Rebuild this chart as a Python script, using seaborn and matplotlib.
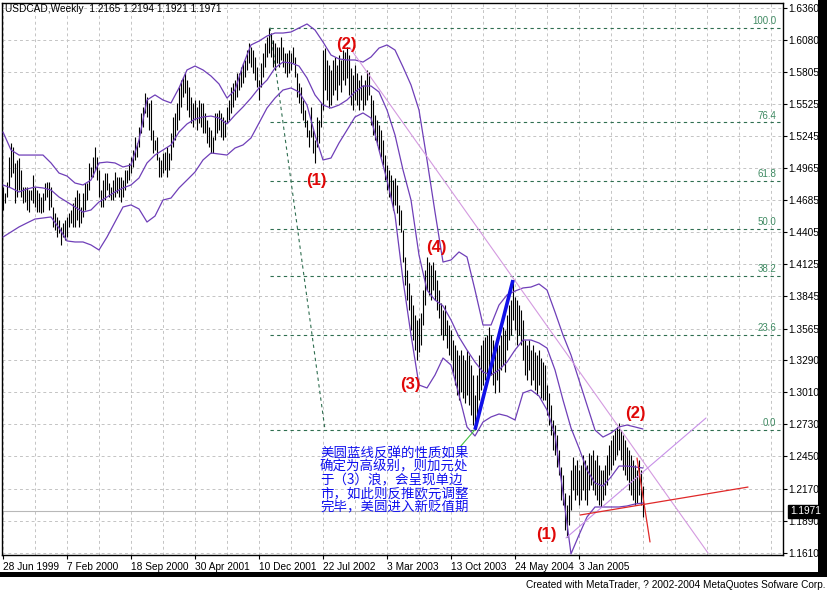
import numpy as np
import pandas as pd
import matplotlib
matplotlib.use("Agg")
import matplotlib.pyplot as plt
from matplotlib.patches import Rectangle
import seaborn as sns

# ---------------- data ----------------
header = "USDCAD,Weekly  1.2165 1.2194 1.1921 1.1971"
footer = "Created with MetaTrader, ? 2002-2004 MetaQuotes Sofware Corp."
date_labels = ["28 Jun 1999", "7 Feb 2000", "18 Sep 2000", "30 Apr 2001", "10 Dec 2001",
               "22 Jul 2002", "3 Mar 2003", "13 Oct 2003", "24 May 2004", "3 Jan 2005"]
date_label_bars = [0, 32, 64, 96, 128, 160, 192, 224, 256, 288]
price_ticks = [1.6360, 1.6080, 1.5805, 1.5525, 1.5245, 1.4965, 1.4685, 1.4405, 1.4125,
               1.3845, 1.3565, 1.3290, 1.3010, 1.2730, 1.2450, 1.2170, 1.1890, 1.1610]

highs = [1.4799, 1.4747, 1.4843, 1.5061, 1.5183, 1.5148, 1.5009, 1.5035, 1.5052, 1.4948,
         1.4799, 1.4799, 1.4799, 1.4773, 1.4773, 1.4904, 1.4799, 1.4773, 1.4747, 1.4712,
         1.4747, 1.4834, 1.4843, 1.4843, 1.4799, 1.4625, 1.4573, 1.4538, 1.4512, 1.4451,
         1.4486, 1.4512, 1.4538, 1.4573, 1.4599, 1.4660, 1.4712, 1.4773, 1.4747, 1.4625,
         1.4747, 1.4834, 1.4834, 1.5009, 1.4974, 1.5061, 1.5148, 1.5061, 1.4948, 1.4773,
         1.4860, 1.4922, 1.4922, 1.4834, 1.4799, 1.4860, 1.4930, 1.4887, 1.4887, 1.4887,
         1.4860, 1.4948, 1.4948, 1.5009, 1.5061, 1.5122, 1.5235, 1.5183, 1.5323, 1.5445,
         1.5497, 1.5619, 1.5584, 1.5532, 1.5558, 1.5296, 1.5209, 1.5235, 1.5061, 1.5035,
         1.5096, 1.5105, 1.5148, 1.5096, 1.5270, 1.5410, 1.5445, 1.5532, 1.5671, 1.5732,
         1.5758, 1.5793, 1.5732, 1.5671, 1.5584, 1.5532, 1.5558, 1.5497, 1.5558, 1.5532,
         1.5532, 1.5445, 1.5384, 1.5323, 1.5296, 1.5235, 1.5445, 1.5445, 1.5471, 1.5445,
         1.5410, 1.5384, 1.5497, 1.5558, 1.5671, 1.5706, 1.5732, 1.5793, 1.5793, 1.5846,
         1.5881, 1.5907, 1.5994, 1.6055, 1.6020, 1.5994, 1.5933, 1.5846, 1.5732, 1.5881,
         1.5968, 1.6055, 1.6107, 1.6190, 1.6142, 1.6081, 1.6055, 1.6020, 1.6020, 1.6107,
         1.6020, 1.5968, 1.5968, 1.5994, 1.5968, 1.6020, 1.5933, 1.5793, 1.5706, 1.5671,
         1.5558, 1.5471, 1.5384, 1.5296, 1.5497, 1.5296, 1.5209, 1.5410, 1.5384, 1.5532,
         1.5994, 1.6011, 1.5907, 1.5863, 1.5820, 1.5907, 1.5933, 1.5863, 1.5950, 1.5907,
         1.5994, 1.5977, 1.6020, 1.5950, 1.5837, 1.5776, 1.5863, 1.5793, 1.5732, 1.5776,
         1.5689, 1.5732, 1.5820, 1.5802, 1.5602, 1.5558, 1.5427, 1.5384, 1.5340, 1.5296,
         1.5209, 1.5079, 1.4991, 1.4948, 1.4904, 1.4860, 1.4878, 1.4817, 1.4643, 1.4599,
         1.4424, 1.4189, 1.4076, 1.3962, 1.3858, 1.3770, 1.3683, 1.3640, 1.3657, 1.3701,
         1.3901, 1.4076, 1.4189, 1.4145, 1.4119, 1.4145, 1.4076, 1.3988, 1.3901, 1.3788,
         1.3727, 1.3770, 1.3640, 1.3596, 1.3552, 1.3465, 1.3422, 1.3378, 1.3334, 1.3378,
         1.3334, 1.3291, 1.3378, 1.3334, 1.3247, 1.3160, 1.2986, 1.3160, 1.3334, 1.3422,
         1.3465, 1.3491, 1.3509, 1.3579, 1.3509, 1.3465, 1.3422, 1.3491, 1.3422, 1.3509,
         1.3579, 1.3552, 1.3683, 1.3770, 1.3814, 1.3988, 1.3840, 1.3814, 1.3770, 1.3727,
         1.3640, 1.3465, 1.3422, 1.3465, 1.3378, 1.3422, 1.3361, 1.3334, 1.3378, 1.3308,
         1.3273, 1.3247, 1.3073, 1.3003, 1.2899, 1.2768, 1.2724, 1.2637, 1.2506, 1.2358,
         1.2288, 1.2131, 1.2026, 1.2113, 1.2332, 1.2445, 1.2375, 1.2419, 1.2332, 1.2375,
         1.2463, 1.2419, 1.2375, 1.2480, 1.2463, 1.2506, 1.2419, 1.2463, 1.2375, 1.2332,
         1.2332, 1.2375, 1.2463, 1.2550, 1.2593, 1.2637, 1.2680, 1.2706, 1.2741, 1.2680,
         1.2637, 1.2593, 1.2532, 1.2506, 1.2463, 1.2419, 1.2375, 1.2332, 1.2419, 1.2332,
         1.2194]

lows = [1.4599, 1.4660, 1.4712, 1.4799, 1.4887, 1.4922, 1.4660, 1.4712, 1.4773, 1.4712,
        1.4660, 1.4669, 1.4599, 1.4581, 1.4686, 1.4660, 1.4625, 1.4581, 1.4581, 1.4573,
        1.4581, 1.4686, 1.4712, 1.4599, 1.4625, 1.4451, 1.4424, 1.4363, 1.4398, 1.4294,
        1.4363, 1.4337, 1.4363, 1.4451, 1.4486, 1.4451, 1.4451, 1.4512, 1.4451, 1.4486,
        1.4538, 1.4599, 1.4686, 1.4773, 1.4887, 1.4887, 1.4948, 1.4860, 1.4712, 1.4625,
        1.4625, 1.4686, 1.4773, 1.4712, 1.4686, 1.4686, 1.4712, 1.4747, 1.4712, 1.4669,
        1.4712, 1.4773, 1.4834, 1.4860, 1.4922, 1.4974, 1.5035, 1.5061, 1.5148, 1.5270,
        1.5323, 1.5445, 1.5410, 1.5296, 1.5209, 1.5096, 1.5122, 1.5035, 1.4887, 1.4887,
        1.4922, 1.4948, 1.4887, 1.4948, 1.5035, 1.5148, 1.5209, 1.5296, 1.5384, 1.5497,
        1.5584, 1.5619, 1.5471, 1.5410, 1.5357, 1.5323, 1.5384, 1.5296, 1.5357, 1.5323,
        1.5270, 1.5270, 1.5183, 1.5148, 1.5096, 1.5096, 1.5209, 1.5270, 1.5296, 1.5235,
        1.5209, 1.5235, 1.5357, 1.5384, 1.5445, 1.5497, 1.5558, 1.5584, 1.5645, 1.5671,
        1.5706, 1.5758, 1.5820, 1.5881, 1.5846, 1.5793, 1.5732, 1.5671, 1.5558, 1.5671,
        1.5758, 1.5846, 1.5933, 1.5968, 1.5933, 1.5846, 1.5820, 1.5881, 1.5846, 1.5907,
        1.5846, 1.5793, 1.5758, 1.5793, 1.5820, 1.5881, 1.5758, 1.5584, 1.5532, 1.5445,
        1.5384, 1.5323, 1.5235, 1.5148, 1.5235, 1.5096, 1.5009, 1.5148, 1.5183, 1.5323,
        1.5471, 1.5645, 1.5558, 1.5488, 1.5514, 1.5602, 1.5645, 1.5558, 1.5689, 1.5628,
        1.5732, 1.5689, 1.5750, 1.5602, 1.5514, 1.5471, 1.5558, 1.5514, 1.5471, 1.5558,
        1.5471, 1.5514, 1.5558, 1.5602, 1.5340, 1.5253, 1.5209, 1.5166, 1.5122, 1.5061,
        1.4991, 1.4860, 1.4773, 1.4712, 1.4686, 1.4599, 1.4643, 1.4573, 1.4468, 1.4407,
        1.4145, 1.3945, 1.3814, 1.3727, 1.3552, 1.3465, 1.3378, 1.3291, 1.3361, 1.3422,
        1.3596, 1.3770, 1.3901, 1.3858, 1.3814, 1.3901, 1.3814, 1.3727, 1.3657, 1.3509,
        1.3465, 1.3509, 1.3396, 1.3334, 1.3291, 1.3160, 1.3073, 1.2986, 1.2942, 1.3012,
        1.2960, 1.2916, 1.2986, 1.2899, 1.2811, 1.2724, 1.2683, 1.2768, 1.2942, 1.3029,
        1.3073, 1.3116, 1.3134, 1.3204, 1.3160, 1.3073, 1.3003, 1.3116, 1.3012, 1.3204,
        1.3247, 1.3186, 1.3378, 1.3465, 1.3509, 1.3640, 1.3552, 1.3422, 1.3509, 1.3422,
        1.3291, 1.3160, 1.3116, 1.3204, 1.3073, 1.3116, 1.3029, 1.2986, 1.3073, 1.2960,
        1.2942, 1.2942, 1.2811, 1.2724, 1.2637, 1.2506, 1.2463, 1.2358, 1.2288, 1.2070,
        1.2026, 1.1808, 1.1747, 1.1852, 1.1983, 1.2157, 1.2070, 1.2113, 1.2026, 1.2070,
        1.2157, 1.2070, 1.2026, 1.2157, 1.2201, 1.2157, 1.2113, 1.2070, 1.2026, 1.2009,
        1.2070, 1.2113, 1.2201, 1.2288, 1.2332, 1.2375, 1.2419, 1.2463, 1.2506, 1.2419,
        1.2332, 1.2288, 1.2244, 1.2157, 1.2113, 1.2070, 1.2026, 1.2044, 1.2113, 1.2026,
        1.1921]

band_step = 4  # bands read every 4 weekly bars
bb_upper = [1.5279, 1.5122, 1.5078, 1.5078, 1.5078, 1.5078, 1.5009, 1.4921, 1.4895, 1.4834,
            1.4817, 1.4860, 1.5009, 1.5017, 1.5009, 1.4974, 1.4991, 1.5209, 1.5558, 1.5602,
            1.5558, 1.5532, 1.5663, 1.5820, 1.5854, 1.5820, 1.5767, 1.5698, 1.5575, 1.5645,
            1.5863, 1.6038, 1.6072, 1.6116, 1.6142, 1.6142, 1.6151, 1.6186, 1.6221, 1.6168,
            1.6064, 1.5950, 1.5916, 1.5907, 1.5907, 1.5889, 1.5933, 1.6011, 1.6038, 1.5994,
            1.5846, 1.5689, 1.5471, 1.5035, 1.4581, 1.4145, 1.4163, 1.4233, 1.4189, 1.3901,
            1.3596, 1.3596, 1.3770, 1.3858, 1.3892, 1.3919, 1.3927, 1.3954, 1.3901, 1.3709,
            1.3509, 1.3334, 1.3116, 1.2898, 1.2680, 1.2619, 1.2654, 1.2707, 1.2724, 1.2707,
            1.2689]
bb_middle = [1.4817, 1.4791, 1.4756, 1.4782, 1.4799, 1.4791, 1.4773, 1.4712, 1.4669, 1.4625,
             1.4581, 1.4599, 1.4669, 1.4712, 1.4756, 1.4791, 1.4817, 1.4878, 1.5009, 1.5078,
             1.5122, 1.5166, 1.5279, 1.5349, 1.5392, 1.5410, 1.5418, 1.5401, 1.5349, 1.5427,
             1.5497, 1.5575, 1.5663, 1.5732, 1.5837, 1.5889, 1.5881, 1.5854, 1.5750, 1.5602,
             1.5514, 1.5488, 1.5514, 1.5558, 1.5628, 1.5680, 1.5680, 1.5628, 1.5471, 1.5253,
             1.4948, 1.4686, 1.4206, 1.3901, 1.3814, 1.3762, 1.3640, 1.3491, 1.3378, 1.3273,
             1.3186, 1.3160, 1.3204, 1.3273, 1.3378, 1.3465, 1.3465, 1.3439, 1.3395, 1.3204,
             1.2942, 1.2698, 1.2523, 1.2332, 1.2218, 1.2192, 1.2271, 1.2366, 1.2366, 1.2358,
             1.2349]
bb_lower = [1.4363, 1.4407, 1.4451, 1.4486, 1.4520, 1.4529, 1.4538, 1.4442, 1.4329, 1.4320,
            1.4320, 1.4294, 1.4250, 1.4363, 1.4494, 1.4625, 1.4643, 1.4608, 1.4494, 1.4546,
            1.4686, 1.4703, 1.4791, 1.4860, 1.4930, 1.5035, 1.5096, 1.5087, 1.5078, 1.5139,
            1.5166, 1.5227, 1.5357, 1.5488, 1.5575, 1.5645, 1.5663, 1.5628, 1.5514, 1.5253,
            1.5035, 1.5052, 1.5183, 1.5296, 1.5410, 1.5445, 1.5401, 1.5122, 1.4860, 1.4555,
            1.3988, 1.3509, 1.3073, 1.3047, 1.3160, 1.3308, 1.3247, 1.2986, 1.2707, 1.2628,
            1.2750, 1.2794, 1.2820, 1.2803, 1.2768, 1.3003, 1.3029, 1.2977, 1.2855, 1.2637,
            1.2131, 1.1600, 1.1765, 1.1922, 1.2009, 1.2009, 1.2009, 1.2009, 1.2018, 1.2035,
            1.2044]

fib_levels = [100.0, 76.4, 61.8, 50.0, 38.2, 23.6, 0.0]
fib_high, fib_low = 1.6190, 1.2683
fib_bar_high, fib_bar_low = 133.5, 161
last_close = 1.1971

wave_labels = ["(2)", "(1)", "(4)", "(3)", "(1)", "(2)"]
wave_bars = [171.5, 156.5, 216.5, 203.5, 271.5, 316]
wave_prices = [1.6046, 1.4860, 1.4276, 1.3073, 1.1765, 1.2820]

# hand-drawn objects: (bar0, price0, bar1, price1)
line_blue = (236, 1.2683, 255, 1.3988)
line_green = (228.5, 1.2532, 236, 1.2683)
line_pink = (173.5, 1.6011, 352.5, 1.1608)
line_violet = (281.5, 1.1739, 351.5, 1.2785)
line_red = (288.5, 1.1939, 372.5, 1.2183)
line_red_drop = (317, 1.2436, 323.5, 1.1704)

note_text = ("美圆蓝线反弹的性质如果\n确定为高级别，则加元处\n于（3）浪，会呈现单边\n"
             "市，如此则反推欧元调整\n完毕，美圆进入新贬值期")

# ---------------- figure ----------------
sns.set_style("white")
plt.rcParams['font.family'] = ['Liberation Sans', 'DejaVu Sans']
W, H = 828, 593
fig = plt.figure(figsize=(W / 100, H / 100), dpi=100)
fig.patch.set_facecolor("white")
ax = fig.add_axes([2 / W, 38 / H, 781 / W, 552 / H])

x_max = 390
ax.set_xlim(-0.5, x_max)
ax.set_ylim(1.643 - 0.000872 * 555, 1.643 - 0.000872 * 3)

grid_kw = dict(color="#c4c4c4", lw=0.7, ls=(0, (3, 3)), zorder=0)
for p in price_ticks:
    ax.axhline(p, **grid_kw)
for b in range(0, x_max, 16):
    ax.axvline(b, **grid_kw)

# weekly bars
bars = np.arange(len(highs))
ax.vlines(bars, lows, highs, color="black", lw=0.8, zorder=3)

# bollinger bands
band_idx = np.arange(0, len(highs), band_step)
bands = pd.DataFrame({
    "bar": np.tile(band_idx, 3),
    "price": bb_upper + bb_middle + bb_lower,
    "band": ["upper"] * len(band_idx) + ["middle"] * len(band_idx) + ["lower"] * len(band_idx),
})
sns.lineplot(data=bands, x="bar", y="price", units="band", estimator=None,
             color="#6f3fb8", lw=0.9, ax=ax, zorder=4, legend=False)

# fibonacci
fib_col = "#2f6e50"
for lvl in fib_levels:
    p = fib_low + (fib_high - fib_low) * lvl / 100
    ax.hlines(p, fib_bar_high, x_max, color=fib_col, lw=0.8, ls=(0, (3, 3)), zorder=2)
    ax.annotate(f"{lvl:.1f}", xy=(386.5, p), xytext=(0, 1.2), textcoords="offset points",
                ha="right", va="bottom", fontsize=7, color="#3f8a62")
ax.plot([fib_bar_high, fib_bar_low], [fib_high, fib_low], color=fib_col, lw=0.8,
        ls=(0, (3, 3)), zorder=2)

# current price line
ax.axhline(last_close, color="#b8b8b8", lw=0.8, zorder=1)

# trend lines
def seg(line, **kw):
    ax.plot([line[0], line[2]], [line[1], line[3]], **kw)

seg(line_pink, color="#d49ae0", lw=0.8, zorder=5)
seg(line_violet, color="#c890e8", lw=0.8, zorder=5)
seg(line_red, color="#e02828", lw=0.9, zorder=6)
seg(line_red_drop, color="#e02828", lw=0.9, zorder=6)
seg(line_green, color="#44c044", lw=0.8, zorder=6)
seg(line_blue, color="#1010e8", lw=2.6, zorder=7, solid_capstyle="butt")

# wave labels
for t, b, p in zip(wave_labels, wave_bars, wave_prices):
    ax.text(b, p, t, ha="center", va="center", color="#e00808", fontsize=12,
            fontweight="bold", zorder=8)

# chinese note
ax.text(158.5, 1.2545, note_text, ha="left", va="top", color="#1010ee", fontsize=9.7,
        linespacing=0.98, family=["Noto Sans CJK SC", "DejaVu Sans"], zorder=8)

# axes styling
for s in ax.spines.values():
    s.set_color("black")
    s.set_linewidth(1.0)
ax.yaxis.tick_right()
ax.set_yticks(price_ticks)
ax.set_yticklabels([f"{p:.4f}" for p in price_ticks])
ax.tick_params(axis="y", direction="out", length=3, width=0.8, pad=1, labelsize=7.3,
               colors="black", right=True, left=False)
ax.set_xticks(date_label_bars)
ax.set_xticklabels(date_labels, ha="left")
ax.tick_params(axis="x", direction="out", length=3, width=0.8, pad=2, labelsize=7.3,
               colors="black", bottom=True)
for lab in ax.get_xticklabels():
    lab.set_horizontalalignment("left")
ax.set_xlabel("")
ax.set_ylabel("")

# last price tag
ax.annotate(f"{last_close:.4f}", xy=(1, last_close), xycoords=("axes fraction", "data"),
            xytext=(5, 0), textcoords="offset points", ha="left", va="center",
            fontsize=7.3, color="white",
            bbox=dict(boxstyle="square,pad=0.15", fc="black", ec="black"), zorder=9)

# header and footer
fig.text(5 / W, 1 - 9 / H, header, ha="left", va="center", fontsize=7.3, color="black")
fig.text(826 / W, 1 - 585 / H, footer, ha="right", va="center", fontsize=7.3, color="black")

# window frame (black border right and bottom)
fig.patches.append(Rectangle((818 / W, 16 / H), 10 / W, 1 - 16 / H, transform=fig.transFigure,
                             fc="black", ec="none", zorder=-1))
fig.patches.append(Rectangle((0, 16 / H), 1, 5 / H, transform=fig.transFigure,
                             fc="black", ec="none", zorder=-1))

fig.savefig("out.png", dpi=100, facecolor="white")
